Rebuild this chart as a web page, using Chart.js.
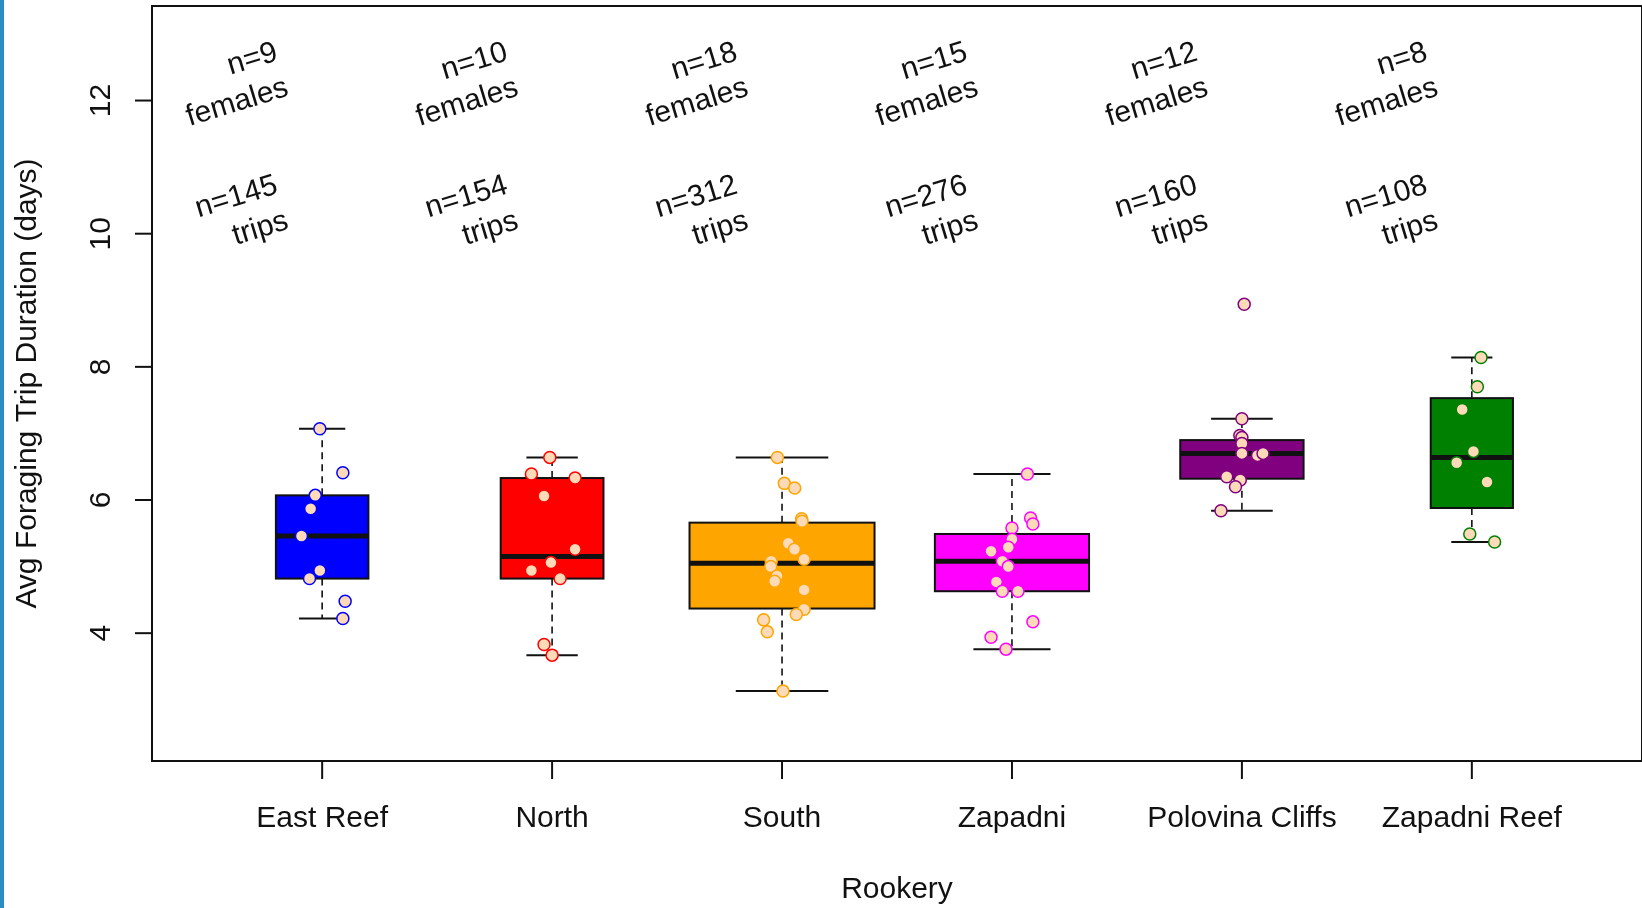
<!DOCTYPE html>
<html>
<head>
<meta charset="utf-8">
<script src="https://cdn.jsdelivr.net/npm/chart.js@4.4.1/dist/chart.umd.min.js"></script>
<style>
  html, body { margin: 0; padding: 0; background: #fff; }
  #wrap { position: relative; width: 1642px; height: 908px; overflow: hidden; }
  #edge { position: absolute; left: 0; top: 0; width: 4px; height: 908px; background: #2c8dc5; }
</style>
</head>
<body>
<div id="wrap">
  <canvas id="tripChart" width="1642" height="908"></canvas>
  <div id="edge"></div>
</div>
<script>
// rookeries and sample sizes
const rookeries = ['East Reef', 'North', 'South', 'Zapadni', 'Polovina Cliffs', 'Zapadni Reef'];
const nFemales = [9, 10, 18, 15, 12, 8];
const nTrips = [145, 154, 312, 276, 160, 108];
const boxColors = ['#0000ff', '#ff0000', '#ffa500', '#ff00ff', '#800080', '#008000'];

// box stats, avg trip duration (days)
const whiskerLow  = [4.22, 3.67, 3.13, 3.76, 5.84, 5.37];
const q1          = [4.82, 4.82, 4.37, 4.63, 6.32, 5.88];
const median      = [5.46, 5.15, 5.05, 5.08, 6.70, 6.64];
const q3          = [6.07, 6.33, 5.66, 5.49, 6.90, 7.53];
const whiskerHigh = [7.07, 6.64, 6.64, 6.39, 7.22, 8.14];

// one point per female: [jitter, avg days]
const eastReefPts = [[-0.01, 7.07], [0.09, 6.41], [-0.03, 6.07], [-0.05, 5.87], [-0.09, 5.46],
  [-0.01, 4.94], [-0.055, 4.82], [0.10, 4.48], [0.09, 4.22]];
const northPts = [[-0.01, 6.64], [-0.09, 6.39], [0.10, 6.33], [-0.035, 6.06], [0.10, 5.26],
  [-0.005, 5.06], [-0.09, 4.94], [0.035, 4.82], [-0.035, 3.83], [0.00, 3.67]];
const southPts = [[-0.02, 6.64], [0.01, 6.25], [0.055, 6.18], [0.085, 5.72], [0.087, 5.68],
  [0.027, 5.35], [0.054, 5.26], [0.096, 5.11], [-0.047, 5.08], [-0.049, 5.00], [-0.022, 4.86],
  [-0.032, 4.78], [0.096, 4.65], [0.096, 4.36], [0.062, 4.28], [-0.08, 4.20], [-0.064, 4.02],
  [0.004, 3.13]];
const zapadniPts = [[0.067, 6.39], [0.081, 5.73], [0.091, 5.64], [0.0, 5.58], [0.0, 5.41],
  [-0.016, 5.29], [-0.091, 5.23], [-0.042, 5.08], [-0.016, 5.00], [-0.068, 4.77], [-0.042, 4.63],
  [0.026, 4.63], [0.091, 4.17], [-0.091, 3.94], [-0.026, 3.76]];
const polovinaPts = [[0.01, 8.94], [0.0, 7.22], [-0.009, 6.97], [0.0, 6.94], [0.0, 6.85],
  [0.0, 6.70], [0.068, 6.67], [0.092, 6.70], [-0.066, 6.35], [-0.007, 6.30], [-0.028, 6.20],
  [-0.091, 5.84]];
const zapadniReefPts = [[0.04, 8.14], [0.024, 7.70], [-0.042, 7.36], [0.007, 6.73],
  [-0.066, 6.56], [0.066, 6.27], [-0.009, 5.49], [0.099, 5.37]];

const yTicks = [4, 6, 8, 10, 12];

const pointSets = [eastReefPts, northPts, southPts, zapadniPts, polovinaPts, zapadniReefPts];
const FONT = "30px 'Liberation Sans', Arial, sans-serif";
const INK = '#111';
const boxPerFemale = 0.0447; // box width (x units) per female

// boxes, axes and labels drawn R-style
const boxPlot = {
  id: 'boxPlot',
  beforeDatasetsDraw(chart) {
    const { ctx, scales: { x, y } } = chart;
    ctx.save();
    rookeries.forEach((name, i) => {
      const cx = x.getPixelForValue(i + 1);
      const hw = x.getPixelForValue(i + 1 + nFemales[i] * boxPerFemale / 2) - cx;
      const yq1 = y.getPixelForValue(q1[i]);
      const yq3 = y.getPixelForValue(q3[i]);
      const ylo = y.getPixelForValue(whiskerLow[i]);
      const yhi = y.getPixelForValue(whiskerHigh[i]);
      const ymd = y.getPixelForValue(median[i]);

      // whiskers
      ctx.strokeStyle = INK;
      ctx.lineWidth = 1.6;
      ctx.setLineDash([7, 5]);
      ctx.beginPath();
      ctx.moveTo(cx, yq3); ctx.lineTo(cx, yhi);
      ctx.moveTo(cx, yq1); ctx.lineTo(cx, ylo);
      ctx.stroke();
      ctx.setLineDash([]);
      ctx.lineWidth = 2;
      ctx.beginPath();
      ctx.moveTo(cx - hw / 2, yhi); ctx.lineTo(cx + hw / 2, yhi);
      ctx.moveTo(cx - hw / 2, ylo); ctx.lineTo(cx + hw / 2, ylo);
      ctx.stroke();

      // box
      ctx.fillStyle = boxColors[i];
      ctx.fillRect(cx - hw, yq3, hw * 2, yq1 - yq3);
      ctx.lineWidth = 2;
      ctx.strokeRect(cx - hw, yq3, hw * 2, yq1 - yq3);

      // median
      ctx.lineWidth = 5;
      ctx.beginPath();
      ctx.moveTo(cx - hw, ymd); ctx.lineTo(cx + hw, ymd);
      ctx.stroke();
    });
    ctx.restore();
  },
  afterDraw(chart) {
    const { ctx, chartArea: a, scales: { x, y } } = chart;
    ctx.save();
    ctx.strokeStyle = INK;
    ctx.fillStyle = INK;
    ctx.font = FONT;

    // frame
    ctx.lineWidth = 2;
    ctx.strokeRect(a.left, a.top, a.right - a.left, a.bottom - a.top);

    // y axis
    yTicks.forEach(v => {
      const py = y.getPixelForValue(v);
      ctx.beginPath();
      ctx.moveTo(a.left, py); ctx.lineTo(a.left - 17, py);
      ctx.stroke();
      ctx.save();
      ctx.translate(110, py);
      ctx.rotate(-Math.PI / 2);
      ctx.textAlign = 'center';
      ctx.textBaseline = 'alphabetic';
      ctx.fillText(String(v), 0, 0);
      ctx.restore();
    });

    // x axis
    rookeries.forEach((name, i) => {
      const px = x.getPixelForValue(i + 1);
      ctx.beginPath();
      ctx.moveTo(px, a.bottom); ctx.lineTo(px, a.bottom + 18);
      ctx.stroke();
      ctx.textAlign = 'center';
      ctx.textBaseline = 'alphabetic';
      ctx.fillText(name, px, 827);
    });

    // axis titles
    ctx.textAlign = 'center';
    ctx.fillText('Rookery', (a.left + a.right) / 2, 898);
    ctx.save();
    ctx.translate(36, (a.top + a.bottom) / 2);
    ctx.rotate(-Math.PI / 2);
    ctx.fillText('Avg Foraging Trip Duration (days)', 0, 0);
    ctx.restore();

    // sample size notes
    const ang = 17 * Math.PI / 180;
    rookeries.forEach((name, i) => {
      const px = x.getPixelForValue(i + 1 - 0.14);
      [[12.08, 'n=' + nFemales[i], 'females'], [10.08, 'n=' + nTrips[i], 'trips']].forEach(([v, l1, l2]) => {
        ctx.save();
        ctx.translate(px, y.getPixelForValue(v));
        ctx.rotate(-ang);
        ctx.textAlign = 'right';
        ctx.fillText(l2, 0, 0);
        ctx.fillText(l1, 0, -37);
        ctx.restore();
      });
    });
    ctx.restore();
  }
};

const ctx = document.getElementById('tripChart');
new Chart(ctx, {
  type: 'scatter',
  data: {
    datasets: pointSets.map((pts, i) => ({
      label: rookeries[i],
      data: pts.map(p => ({ x: i + 1 + p[0], y: p[1] })),
      backgroundColor: '#ffdab9',
      borderColor: boxColors[i],
      borderWidth: 1.5,
      pointRadius: 6,
      pointHoverRadius: 6
    }))
  },
  options: {
    responsive: false,
    animation: false,
    layout: {
      autoPadding: false,
      padding: { left: 152, top: 6, right: 0, bottom: 147 }
    },
    plugins: {
      legend: { display: false },
      tooltip: { enabled: false }
    },
    scales: {
      x: { type: 'linear', min: 0.26, max: 6.74, display: false },
      y: { type: 'linear', min: 2.08, max: 13.42, display: false }
    }
  },
  plugins: [boxPlot]
});
</script>
</body>
</html>
